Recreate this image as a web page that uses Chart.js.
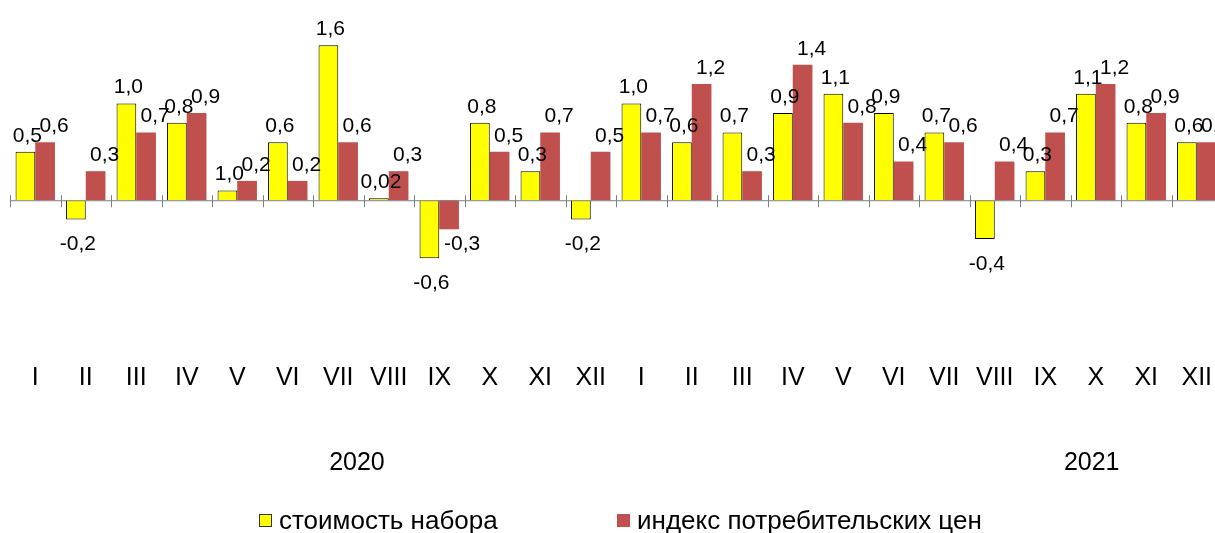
<!DOCTYPE html>
<html>
<head>
<meta charset="utf-8">
<script src="https://cdn.jsdelivr.net/npm/chart.js@4.4.0/dist/chart.umd.min.js"></script>
<style>
  html, body { margin: 0; padding: 0; background: #fff; overflow: hidden; }
  #wrap { width: 1230px; height: 533px; }
</style>
</head>
<body>
<div id="wrap"><canvas id="chart" width="1230" height="533"></canvas></div>
<script>
// Данные
const months = ['I','II','III','IV','V','VI','VII','VIII','IX','X','XI','XII',
                'I','II','III','IV','V','VI','VII','VIII','IX','X','XI','XII'];
const years = ['2020', '2021'];
const seriesNames = ['стоимость набора', 'индекс потребительских цен'];

const costSet = [0.5, -0.2, 1.0, 0.8, 0.1, 0.6, 1.6, 0.02, -0.6, 0.8, 0.3, -0.2,
                 1.0, 0.6, 0.7, 0.9, 1.1, 0.9, 0.7, -0.4, 0.3, 1.1, 0.8, 0.6];
const cpi = [0.6, 0.3, 0.7, 0.9, 0.2, 0.2, 0.6, 0.3, -0.3, 0.5, 0.7, 0.5,
             0.7, 1.2, 0.3, 1.4, 0.8, 0.4, 0.6, 0.4, 0.7, 1.2, 0.9, 0.6];

// подписи как на исходном графике
const costLabels = ['0,5','-0,2','1,0','0,8','1,0','0,6','1,6','0,02','-0,6','0,8','0,3','-0,2',
                    '1,0','0,6','0,7','0,9','1,1','0,9','0,7','-0,4','0,3','1,1','0,8','0,6'];
const cpiLabels = cpi.map(v => v.toFixed(1).replace('.', ','));

const FONT = '"Liberation Sans", Arial, sans-serif';

// Подписи, ось, месяцы, годы, легенда
const decor = {
  id: 'decor',
  afterDatasetsDraw(chart) {
    const ctx = chart.ctx;
    const x = chart.scales.x, y = chart.scales.y;
    const area = chart.chartArea;
    const y0 = y.getPixelForValue(0);
    const w = (area.right - area.left) / months.length;

    ctx.save();
    // ось
    ctx.strokeStyle = '#7f7f7f';
    ctx.lineWidth = 1;
    ctx.beginPath();
    ctx.moveTo(area.left, y0 + 0.5);
    ctx.lineTo(area.right, y0 + 0.5);
    for (let i = 0; i <= months.length; i++) {
      const tx = Math.round(area.left + i * w) + 0.5;
      ctx.moveTo(tx, y0 - 5);
      ctx.lineTo(tx, y0 + 7);
    }
    ctx.stroke();

    // подписи значений
    ctx.fillStyle = '#000';
    ctx.font = '21px ' + FONT;
    ctx.textAlign = 'center';
    ctx.textBaseline = 'middle';
    const texts = [costLabels, cpiLabels];
    chart.data.datasets.forEach((ds, di) => {
      chart.getDatasetMeta(di).data.forEach((bar, i) => {
        const v = ds.data[i];
        let lx, ly;
        if (v >= 0) {
          lx = bar.x + (di === 0 ? 2 : 9);
          ly = bar.y - 16;
        } else {
          lx = bar.x + (di === 0 ? 2 : 13);
          ly = bar.y + (di === 0 ? 25 : 15);
        }
        ctx.fillText(texts[di][i], lx, ly);
      });
    });

    // месяцы
    ctx.font = '25px ' + FONT;
    months.forEach((m, i) => {
      ctx.fillText(m, x.getPixelForValue(i), 378);
    });

    // годы
    const yearPos = [6.87, 21.42];
    years.forEach((yr, i) => {
      ctx.fillText(yr, area.left + yearPos[i] * w, 463);
    });

    // легенда
    ctx.font = '26px ' + FONT;
    ctx.textAlign = 'left';
    const legendX = [259, 617];
    chart.data.datasets.forEach((ds, di) => {
      const bx = legendX[di];
      ctx.fillStyle = ds.backgroundColor;
      ctx.fillRect(bx, 514, 13, 13);
      if (di === 0) {
        ctx.strokeStyle = '#333';
        ctx.strokeRect(bx + 0.5, 514.5, 12, 12);
      }
      ctx.fillStyle = '#000';
      ctx.fillText(ds.label, bx + 20, 522);
    });
    ctx.restore();
  }
};

new Chart(document.getElementById('chart'), {
  type: 'bar',
  data: {
    labels: months,
    datasets: [{
      label: seriesNames[0],
      data: costSet,
      backgroundColor: '#FFFF00',
      borderColor: '#000000',
      borderWidth: 1,
      categoryPercentage: 0.78,
      barPercentage: 1
    }, {
      label: seriesNames[1],
      data: cpi,
      backgroundColor: '#C0504D',
      borderWidth: 0,
      categoryPercentage: 0.78,
      barPercentage: 1
    }]
  },
  options: {
    responsive: false,
    animation: false,
    layout: { padding: { left: 10, right: 8, top: 26, bottom: 265 } },
    plugins: { legend: { display: false }, tooltip: { enabled: false } },
    scales: {
      x: { display: false },
      y: { display: false, min: -0.7, max: 1.8 }
    }
  },
  plugins: [decor]
});
</script>
</body>
</html>
